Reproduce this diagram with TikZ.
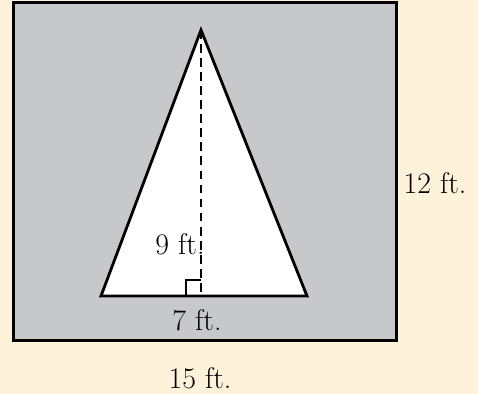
\documentclass[tikz,border=0pt]{standalone}
\usepackage{xcolor}
\definecolor{paper}{RGB}{255,242,218}
\definecolor{field}{RGB}{199,200,202}
\begin{document}
\begin{tikzpicture}[x=0.02cm, y=0.02cm, every node/.style={font=\fontsize{17}{20}\selectfont}]
  \tikzstyle{edge}=[line width=1.6pt, line join=miter]
  \fill[paper] (0,0) rectangle (478,394);
  \useasboundingbox (0,0) rectangle (478,394);
  \node[draw, edge, fill=field, minimum width=383*0.02cm, minimum height=338*0.02cm, inner sep=0pt, anchor=south west] (lot) at (12,52) {};
  \coordinate (apex) at (201,364);
  \coordinate (bl) at (101,98);
  \coordinate (br) at (307,98);
  \coordinate (foot) at (201,98);
  \draw[edge, fill=white] (apex) -- (bl) -- (br) -- cycle;
  \draw[line width=1.3pt, dashed, dash pattern=on 5pt off 3pt] (apex) -- (foot);
  \draw[line width=0.6pt] ([xshift=-0.3cm]foot) |- ([yshift=0.32cm]foot);
  \node (h) at (180,150) {9 ft.};
  \node (b) at (197,74) {7 ft.};
  \node (side) at (435,211) {12 ft.};
  \node (bottom) at (200,16) {15 ft.};
\end{tikzpicture}
\end{document}
